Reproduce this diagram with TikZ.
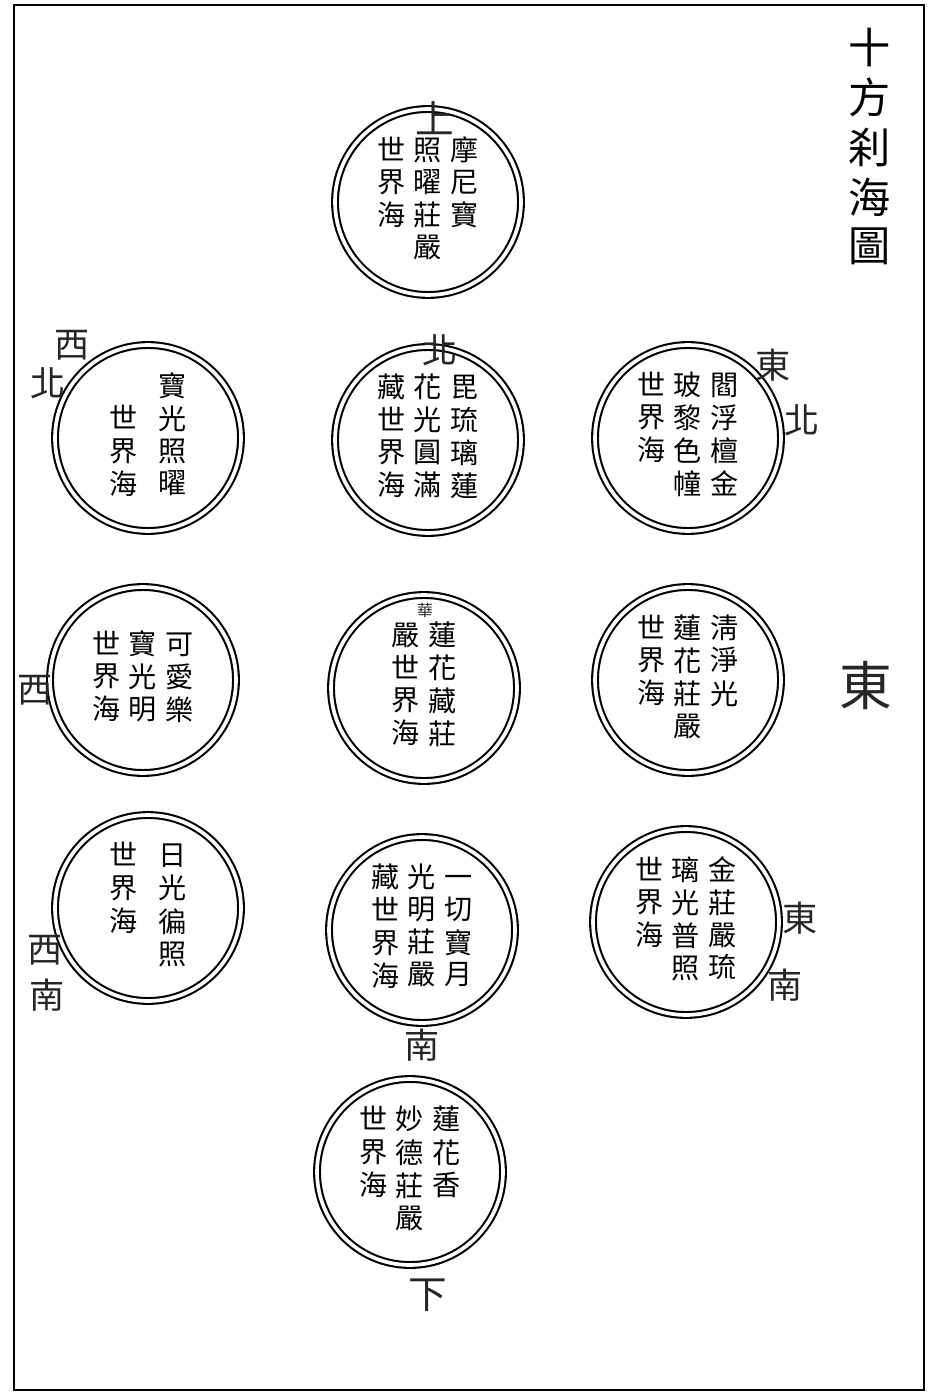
\documentclass[tikz,border=0pt]{standalone}
\usepackage{fontspec}
\newfontfamily\cjk{Noto Sans CJK TC}
\newcommand{\vcol}[1]{\begin{tabular}[t]{@{}c@{}}#1\end{tabular}}
\newcommand{\cgap}{\hspace{5pt}}
\newcommand{\wgap}{\hspace{12pt}}

\begin{document}
\begin{tikzpicture}[x=0.02cm, y=-0.02cm, line width=0.5pt,
    sea/.style={circle, draw, double, double distance=2.1pt, line width=1.2pt,
        minimum size=3.72cm, inner sep=0pt, font=\cjk\fontsize{16}{18}\selectfont},
    dir/.style={inner sep=0pt, text=black!85, font=\cjk\fontsize{20}{22}\selectfont}]
    \useasboundingbox (0,0) rectangle (938,1398);
        \draw [line width=1.5pt] (14,5) rectangle (924,1390);

        \node [inner sep=0pt, font=\cjk\fontsize{24}{27}\selectfont] (title) at (870,152)
            {\vcol{十\\方\\刹\\海\\圖}};

        \node [sea] (top) at (428,202)
            {\vcol{世\\界\\海}\cgap\vcol{照\\曜\\莊\\嚴}\cgap\vcol{摩\\尼\\寶}};
        \node [sea] (nw) at (148,438)
            {\vcol{\\世\\界\\海}\wgap\vcol{寶\\光\\照\\曜}};
        \node [sea] (north) at (428,440)
            {\vcol{藏\\世\\界\\海}\cgap\vcol{花\\光\\圓\\滿}\cgap\vcol{毘\\琉\\璃\\蓮}};
        \node [sea] (ne) at (688,438)
            {\vcol{世\\界\\海}\cgap\vcol{玻\\黎\\色\\幢}\cgap\vcol{閻\\浮\\檀\\金}};
        \node [sea] (west) at (143,680)
            {\vcol{世\\界\\海}\cgap\vcol{寶\\光\\明}\cgap\vcol{可\\愛\\樂}};
        \node [sea] (centre) at (424,688)
            {\vcol{嚴\\世\\界\\海}\cgap\vcol{蓮\\花\\藏\\莊}};
        \node [sea] (east) at (688,680)
            {\vcol{世\\界\\海}\cgap\vcol{蓮\\花\\莊\\嚴}\cgap\vcol{淸\\淨\\光}};
        \node [sea] (sw) at (148,908)
            {\vcol{世\\界\\海}\wgap\vcol{日\\光\\徧\\照}};
        \node [sea] (south) at (422,930)
            {\vcol{藏\\世\\界\\海}\cgap\vcol{光\\明\\莊\\嚴}\cgap\vcol{一\\切\\寶\\月}};
        \node [sea] (se) at (686,922)
            {\vcol{世\\界\\海}\cgap\vcol{璃\\光\\普\\照}\cgap\vcol{金\\莊\\嚴\\琉}};
        \node [sea] (bottom) at (410,1172)
            {\vcol{世\\界\\海}\cgap\vcol{妙\\德\\莊\\嚴}\cgap\vcol{蓮\\花\\香}};

        \node [dir, font=\cjk\fontsize{9}{9}\selectfont] (hua) at (425,610) {華};

        \node [dir, font=\cjk\fontsize{22}{22}\selectfont] (upL) at (435,118) {上};
        \node [dir] (northL) at (440,350) {北};
        \node [dir] (nwL1) at (72,345) {西};
        \node [dir] (nwL2) at (48,383) {北};
        \node [dir] (neL1) at (773,365) {東};
        \node [dir] (neL2) at (802,420) {北};
        \node [dir] (westL) at (35,690) {西};
        \node [dir, font=\cjk\fontsize{30}{30}\selectfont] (eastL) at (866,685) {東};
        \node [dir] (swL1) at (45,950) {西};
        \node [dir] (swL2) at (47,995) {南};
        \node [dir] (southL) at (422,1045) {南};
        \node [dir] (seL1) at (800,918) {東};
        \node [dir] (seL2) at (785,985) {南};
        \node [dir, font=\cjk\fontsize{22}{22}\selectfont] (downL) at (428,1295) {下};
    \end{tikzpicture}
\end{document}
